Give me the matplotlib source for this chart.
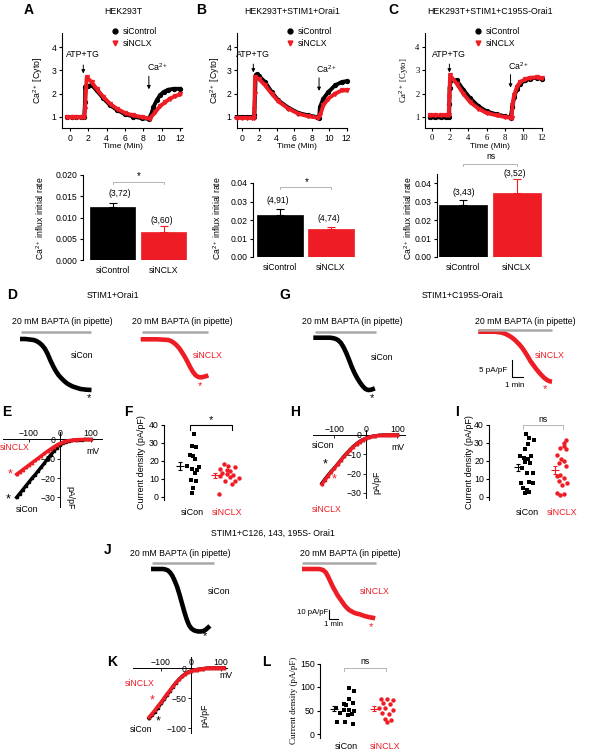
import numpy as np
import matplotlib
matplotlib.use('Agg')
import matplotlib.pyplot as plt

plt.rcParams['font.family'] = ['Liberation Sans', 'DejaVu Sans']
plt.rcParams['mathtext.fontset'] = 'custom'
plt.rcParams['mathtext.rm'] = 'Liberation Sans'
plt.rcParams['mathtext.it'] = 'Liberation Sans:italic'
plt.rcParams['mathtext.bf'] = 'Liberation Sans:bold'
plt.rcParams['axes.linewidth'] = 0.8

RED = '#ee1c24'
GRAY = '#a8a8a8'

# ---------------- DATA ----------------
# Panel A-C: cytosolic Ca2+ time courses (time in min, ratio)
A_t_ctrl = [-0.3, 0.2, 0.7, 1.2, 1.55, 1.64, 1.66, 1.75, 2.0, 2.36, 2.9, 3.64, 4.36, 5.1, 6.0, 6.9, 7.8, 8.6, 8.9, 9.1, 9.45, 9.8, 10.2, 10.7, 11.3, 12.0]
A_ca_ctrl = [1.0, 1.0, 1.0, 1.0, 1.0, 1.66, 2.3, 2.35, 2.32, 2.38, 2.14, 1.8, 1.51, 1.31, 1.12, 1.02, 0.95, 0.92, 1.17, 1.43, 1.71, 1.93, 2.07, 2.17, 2.21, 2.21]
A_t_nclx = [-0.3, 0.2, 0.7, 1.2, 1.55, 1.64, 1.82, 2.36, 2.9, 3.64, 4.36, 5.1, 6.0, 6.9, 7.8, 8.7, 9.3, 9.8, 10.4, 10.9, 11.45, 12.0]
A_ca_nclx = [0.98, 0.98, 0.98, 0.98, 0.98, 1.36, 2.71, 2.5, 2.21, 1.86, 1.57, 1.36, 1.17, 1.07, 1.0, 0.93, 1.21, 1.46, 1.64, 1.79, 1.89, 1.97]

B_t_ctrl = [-0.57, 0.0, 0.6, 1.2, 1.4, 1.45, 1.6, 1.71, 2.0, 2.67, 3.43, 4.19, 5.33, 6.48, 7.62, 8.57, 8.84, 8.95, 9.33, 9.9, 10.67, 11.43, 12.0]
B_ca_ctrl = [1.0, 1.0, 1.0, 1.0, 1.0, 1.1, 2.8, 2.83, 2.75, 2.5, 2.07, 1.71, 1.4, 1.17, 1.07, 1.0, 0.97, 1.43, 1.79, 2.07, 2.36, 2.5, 2.54]
B_t_nclx = [-0.57, 0.0, 0.6, 1.2, 1.4, 1.45, 1.48, 1.52, 2.0, 2.67, 3.43, 4.19, 5.33, 6.48, 7.62, 8.76, 8.95, 9.33, 9.9, 10.67, 11.43, 12.0]
B_ca_nclx = [0.96, 0.96, 0.96, 0.96, 0.96, 1.36, 2.0, 2.71, 2.62, 2.36, 2.0, 1.67, 1.36, 1.14, 1.03, 0.97, 1.07, 1.5, 1.79, 2.0, 2.14, 2.14]

C_t_ctrl = [-0.2, 0.4, 1.0, 1.6, 1.9, 1.93, 1.95, 2.1, 2.73, 3.45, 4.18, 5.1, 6.0, 7.1, 8.0, 8.6, 8.8, 9.0, 9.3, 9.64, 10.2, 10.7, 11.45, 12.0]
C_ca_ctrl = [0.98, 0.98, 0.98, 0.98, 0.98, 1.57, 2.26, 2.6, 2.57, 2.17, 1.81, 1.46, 1.24, 1.11, 1.03, 0.97, 1.43, 1.86, 2.21, 2.43, 2.57, 2.64, 2.69, 2.64]
C_t_nclx = [-0.2, 0.4, 1.0, 1.6, 1.85, 1.93, 2.0, 2.73, 3.45, 4.18, 5.1, 6.0, 7.1, 8.0, 8.55, 8.73, 8.8, 9.0, 9.3, 9.64, 10.2, 10.7, 11.45, 12.0]
C_ca_nclx = [1.07, 1.07, 1.07, 1.07, 1.07, 1.86, 2.79, 2.43, 2.0, 1.64, 1.36, 1.17, 1.07, 1.0, 0.97, 0.97, 1.5, 1.95, 2.3, 2.5, 2.62, 2.68, 2.7, 2.66]

# Bar charts: Ca2+ influx initial rate (mean, sem)
bar_groups = ['siControl', 'siNCLX']
A_bar = [0.01254, 0.00667]; A_err = [0.0008, 0.00133]; A_n = ['(3,72)', '(3,60)']
B_bar = [0.0227, 0.0150]; B_err = [0.0031, 0.0014]; B_n = ['(4,91)', '(4,74)']
C_bar = [0.0282, 0.0349]; C_err = [0.0027, 0.0073]; C_n = ['(3,43)', '(3,52)']

# Whole-cell current traces (time in min, current in pA/pF)
D_t_con = [0, 0.5, 1.0, 1.25, 1.5, 1.75, 2.0, 2.25, 2.5, 2.75, 3.0, 3.25, 3.5, 3.75, 4.0, 4.25, 4.5, 4.75, 5.0, 5.5, 6.0, 6.5]
D_i_con = [0, 0, -0.2, -0.3, -0.6, -1.1, -1.8, -2.8, -4.3, -6.2, -7.9, -9.4, -10.6, -11.5, -12.3, -13.0, -13.5, -13.9, -14.2, -14.7, -14.9, -15.0]
D_t_nclx = [0, 0.5, 1.0, 1.5, 2.0, 2.5, 2.75, 3.0, 3.25, 3.5, 3.75, 4.0, 4.25, 4.5, 4.75, 5.0, 5.25, 5.5, 5.75, 6.0, 6.15]
D_i_nclx = [0, 0, 0, 0, -0.1, -0.2, -0.5, -1.0, -1.7, -2.6, -3.8, -5.1, -6.6, -8.2, -9.6, -10.6, -11.1, -11.2, -11.0, -10.8, -10.6]
G_t_con = [0, 0.5, 1.0, 1.5, 1.75, 2.0, 2.25, 2.5, 2.75, 3.0, 3.25, 3.5, 3.75, 4.0, 4.25, 4.5, 4.75, 5.0, 5.25, 5.6]
G_i_con = [0, 0, 0, 0, -0.1, -0.3, -0.7, -1.5, -2.8, -4.5, -6.5, -8.6, -10.4, -11.9, -13.2, -14.3, -15.1, -15.4, -15.3, -14.9]
G_t_nclx = [0, 0.5, 1.0, 1.5, 2.0, 2.25, 2.5, 2.75, 3.0, 3.25, 3.5, 3.75, 4.0, 4.25, 4.5, 4.75, 5.0, 5.25, 5.5, 5.75, 6.0, 6.25, 6.5, 6.7]
G_i_nclx = [0, 0, 0, 0, -0.2, -0.4, -0.7, -1.1, -1.6, -2.2, -3.0, -3.8, -4.8, -6.0, -7.3, -8.7, -9.8, -10.9, -11.9, -12.8, -13.6, -14.2, -14.6, -14.7]
J_t_con = [0, 0.5, 1.0, 1.25, 1.5, 1.75, 2.0, 2.25, 2.5, 2.75, 3.0, 3.25, 3.5, 3.75, 4.0, 4.25, 4.5, 4.75, 5.0, 5.25, 5.5, 5.75, 6.0, 6.2]
J_i_con = [0, 0, 0, 0, -0.5, -1.5, -4, -8, -14, -21, -30, -40, -50, -59, -66, -70, -72, -73, -73.5, -73.5, -73, -71.5, -69, -67]
J_t_nclx = [0, 0.5, 1.0, 1.5, 1.75, 2.0, 2.25, 2.5, 2.75, 3.0, 3.25, 3.5, 3.75, 4.0, 4.25, 4.5, 4.75, 5.0, 5.25, 5.5, 5.75, 6.0, 6.5, 7.0, 7.5, 7.7]
J_i_nclx = [0, 0, 0, 0, 0, -0.5, -1.5, -4, -9, -15, -21, -26, -31, -35, -39, -43, -46, -48.5, -50, -51.5, -52.5, -53, -55, -56.5, -57.5, -58]

# I-V relationships (mV, pA/pF)
E_mv = [-140, -130, -120, -110, -100, -90, -80, -70, -60, -50, -40, -30, -20, -10, 0, 10, 20, 30, 40, 50, 60, 70, 80, 90, 100]
E_con = [-30.0, -28.0, -26.0, -24.0, -22.0, -20.0, -18.2, -16.2, -14.2, -12.2, -10.0, -8.0, -6.0, -4.2, -2.8, -1.8, -1.2, -0.8, -0.5, -0.3, -0.2, -0.1, 0, 0, 0]
E_nclx = [-18.0, -16.8, -15.6, -14.4, -13.2, -12.0, -10.8, -9.6, -8.4, -7.2, -6.0, -4.9, -3.8, -2.8, -2.0, -1.3, -0.8, -0.5, -0.3, -0.1, 0, 0, 0.1, 0, 0]
H_mv = [-140, -130, -120, -110, -100, -90, -80, -70, -60, -50, -40, -30, -20, -10, 0, 10, 20, 30, 40, 50, 60, 70, 80, 90, 100]
H_con = [-25.0, -22.8, -20.7, -18.8, -17.0, -15.0, -13.0, -11.0, -9.2, -7.5, -5.9, -4.5, -3.3, -2.4, -1.7, -1.1, -0.7, -0.4, -0.2, -0.1, 0, 0, 0, 0, 0]
H_nclx = [-25.5, -23.2, -21.0, -19.0, -17.1, -15.1, -13.1, -11.1, -9.3, -7.6, -6.0, -4.6, -3.4, -2.4, -1.7, -1.1, -0.7, -0.4, -0.2, -0.1, 0, 0.2, 0, 0.1, 0]
K_mv = [-140, -130, -120, -110, -100, -90, -80, -70, -60, -50, -40, -30, -20, -10, 0, 10, 20, 30, 40, 50, 60, 70, 80, 90, 100, 110]
K_con = [-84, -78.5, -72.5, -66, -59, -52, -45, -38, -31, -24.5, -19, -14, -10, -7, -5, -3.5, -2.5, -1.5, -1, -0.5, 0, 0, 0, 0, 0, 0]
K_nclx = [-82, -76, -70, -63, -57, -50, -43, -37, -30, -24, -19, -14, -10, -7, -5, -3.5, -2.5, -1.5, -1, -0.5, 0, 0.5, 0, 0.5, 0, 0]

# Current density scatter (pA/pF)
scat_groups = ['siCon', 'siNCLX']
F_con = [35.0, 28.4, 27.6, 23.4, 22.8, 21.0, 17.0, 15.5, 15.1, 16.4, 13.6, 9.2, 8.8, 5.0, 2.2]
F_nclx = [18.2, 17.0, 15.5, 16.4, 15.0, 14.7, 13.2, 12.7, 12.3, 11.8, 10.5, 11.0, 8.7, 8.7, 7.4, 1.8]
I_con = [34.8, 32.9, 31.6, 29.2, 26.8, 22.7, 21.8, 21.2, 22.7, 19.3, 18.9, 16.0, 13.6, 13.2, 7.6, 8.6, 7.6, 4.8, 3.9, 2.0, 3.0]
I_nclx = [31.6, 29.8, 28.3, 27.3, 26.4, 23.6, 21.2, 19.9, 18.9, 17.1, 12.5, 11.5, 10.6, 8.7, 7.8, 6.9, 2.2, 1.3, 1.5]
L_con = [97, 91, 75, 65, 63, 56, 61, 52, 52, 49, 45, 40, 42, 26, 26, 21]
L_nclx = [75, 75, 73, 66, 63, 56, 56, 51, 45, 42, 31, 29, 26]
F_mean = [17.0, 12.0]; F_sem = [2.2, 1.3]
I_mean = [16.5, 15.0]; I_sem = [2.0, 2.2]
L_mean = [54.0, 54.0]; L_sem = [6.0, 5.0]

# horizontal jitter of scatter points (layout)
F_jit_con = [0.06, -0.02, 0.10, -0.07, 0.01, 0.08, -0.16, -0.02, 0.12, 0.20, 0.08, -0.05, 0.10, 0.01, 0.0]
F_jit_nclx = [-0.10, 0.03, -0.21, 0.23, -0.02, 0.08, -0.14, -0.02, 0.17, -0.21, 0.32, 0.08, -0.07, 0.22, 0.13, -0.23]
I_jit_con = [-0.02, 0.06, 0.19, 0.03, -0.07, -0.21, -0.10, 0.03, 0.12, -0.07, 0.08, -0.13, 0.17, 0.0, -0.16, 0.06, 0.17, -0.11, 0.0, -0.07, 0.06]
I_jit_nclx = [0.12, 0.05, 0.07, -0.05, 0.12, -0.14, -0.02, 0.05, -0.10, 0.12, -0.05, -0.14, 0.05, -0.10, 0.14, 0.0, -0.14, -0.05, 0.07]
L_jit_con = [0.07, 0.20, 0.05, 0.17, -0.08, -0.28, -0.01, 0.07, -0.08, 0.19, -0.18, 0.04, 0.15, -0.25, -0.03, 0.17]
L_jit_nclx = [-0.10, 0.05, 0.20, -0.05, 0.12, -0.15, 0.0, 0.20, -0.08, 0.10, 0.0, 0.15, 0.05]

# ---------------- FIGURE ----------------
W, H = 594, 752
fig = plt.figure(figsize=(W / 100, H / 100), dpi=100)


def add_ax(box, xref, yref):
    x0, y0, x1, y1 = box
    ax = fig.add_axes([x0 / W, 1 - y1 / H, (x1 - x0) / W, (y1 - y0) / H])
    px, v, s = xref
    ax.set_xlim(v + (x0 - px) / s, v + (x1 - px) / s)
    py, v, s = yref
    ax.set_ylim(v - (y1 - py) / s, v - (y0 - py) / s)
    ax.patch.set_alpha(0)
    return ax


def ftext(x, y, s, **kw):
    kw.setdefault('ha', 'center')
    kw.setdefault('va', 'center')
    kw.setdefault('fontsize', 6.3)
    fig.text(x / W, 1 - y / H, s, **kw)


def letter(x, y, s):
    ftext(x, y, s, fontsize=10, fontweight='bold')


# ---- A, B, C time courses ----
def time_panel(box, xref, tctrl, cctrl, tnclx, cnclx, atp, ca, serif=False):
    ax = add_ax(box, xref, (117, 1, 23.3))
    for s in ['top', 'right']:
        ax.spines[s].set_visible(False)
    ax.set_xticks(range(0, 13, 2))
    ax.set_yticks([1, 2, 3, 4])
    ax.tick_params(direction='out', length=2.5, width=0.8, labelsize=6.2, pad=1.5)
    if serif:
        for lab in ax.get_xticklabels() + ax.get_yticklabels():
            lab.set_family('Liberation Serif')
    ax.plot(tctrl, cctrl, color='k', lw=2.8, marker='o', ms=2.8, zorder=2, clip_on=False)
    ax.plot(tnclx, cnclx, color=RED, lw=2.8, marker='v', ms=2.8, zorder=3, clip_on=False)
    # stimulus arrows
    ax.annotate('', xy=(atp[0], atp[1]), xytext=(atp[0], atp[1] + 0.6),
                arrowprops=dict(arrowstyle='-|>', color='k', lw=0.7, mutation_scale=5))
    ax.text(atp[0], atp[1] + 0.72, 'ATP+TG', ha='center', va='bottom', fontsize=6.3)
    ax.annotate('', xy=(ca[0], ca[1]), xytext=(ca[0], ca[1] + 0.8),
                arrowprops=dict(arrowstyle='-|>', color='k', lw=0.7, mutation_scale=5))
    ax.text(ca[0] + 0.9, ca[1] + 1.05, 'Ca$^{2+}$', ha='center', va='center', fontsize=6.3)
    h1 = plt.Line2D([], [], color='k', marker='o', ls='none', ms=3.5)
    h2 = plt.Line2D([], [], color=RED, marker='v', ls='none', ms=3.5)
    ax.legend([h1, h2], ['siControl', 'siNCLX'], loc='upper left',
              bbox_to_anchor=((box[0] + 50) / W, 1 - 27 / H), bbox_transform=fig.transFigure,
              frameon=False, fontsize=6.2, handlelength=0.8, handletextpad=0.5,
              labelspacing=0.35, borderpad=0, borderaxespad=0)
    return ax


time_panel((62, 33, 182, 128.3), (70, 0, 9.17), A_t_ctrl, A_ca_ctrl, A_t_nclx, A_ca_nclx, (1.45, 2.75), (8.6, 2.07))
time_panel((237, 33, 347, 128.3), (241.7, 0, 8.75), B_t_ctrl, B_ca_ctrl, B_t_nclx, B_ca_nclx, (1.33, 2.79), (8.84, 2.0))
time_panel((425, 33, 542, 128.3), (431.7, 0, 9.17), C_t_ctrl, C_ca_ctrl, C_t_nclx, C_ca_nclx, (1.93, 2.79), (8.6, 2.14), serif=True)

letter(29, 10, 'A'); letter(201, 10, 'B'); letter(393, 10, 'C')
ftext(123, 12, 'HEK293T')
ftext(292, 12, 'HEK293T+STIM1+Orai1')
ftext(490, 11, 'HEK293T+STIM1+C195S-Orai1')
ftext(38, 80, 'Ca$^{2+}$ [Cyto]', rotation=90)
ftext(215, 80, 'Ca$^{2+}$ [Cyto]', rotation=90)
ftext(404, 80, 'Ca$^{2+}$ [Cyto]', rotation=90, family='Liberation Serif')
for x in (123, 297, 490):
    ftext(x, 147, 'Time (Min)', fontsize=6)


# ---- bar charts ----
def bar_panel(box, xref, yref, vals, errs, ns, ticks, fmt, sig, sig_y, n_pos):
    ax = add_ax(box, xref, yref)
    for s in ['top', 'right', 'bottom']:
        ax.spines[s].set_visible(False)
    ax.bar([0, 1], vals, width=0.9, color=['k', RED], edgecolor=['k', RED], lw=0.5, zorder=2)
    for i, c in enumerate(['k', RED]):
        ax.errorbar([i], [vals[i]], yerr=[[0], [errs[i]]], fmt='none', ecolor=c,
                    elinewidth=0.8, capsize=3, capthick=0.8, zorder=1)
        ax.text(n_pos[i][0], n_pos[i][1], ns[i], ha='center', va='center', fontsize=6.2)
    ax.set_yticks(ticks)
    ax.set_yticklabels([fmt.format(t) for t in ticks])
    ax.set_xticks([0, 1])
    ax.set_xticklabels(bar_groups)
    ax.tick_params(axis='y', direction='out', length=2.5, width=0.8, labelsize=6.2, pad=1.5)
    ax.tick_params(axis='x', length=0, labelsize=6.2, pad=4)
    yr = ax.get_ylim()[1] - ax.get_ylim()[0]
    ax.plot([0, 0, 1, 1], [sig_y - 0.02 * yr, sig_y, sig_y, sig_y - 0.02 * yr],
            color=GRAY, lw=0.6, clip_on=False)
    ax.text(0.52, sig_y + (0.005 if sig == '*' else 0.03) * yr, sig, ha='center', va='bottom',
            fontsize=7 if sig == '*' else 6.2)
    return ax


bar_panel((83, 175, 190, 260), (112.5, 0, 51), (260, 0, 4250), A_bar, A_err, A_n,
          [0, 0.005, 0.01, 0.015, 0.02], '{:.3f}', '*', 0.0184, [(0.15, 0.0157), (0.96, 0.0094)])
bar_panel((253, 183, 357, 257), (280, 0, 51), (257, 0, 1850), B_bar, B_err, B_n,
          [0, 0.01, 0.02, 0.03, 0.04], '{:.2f}', '*', 0.0378, [(-0.05, 0.0303), (0.95, 0.0209)])
bar_panel((437, 174, 545, 257), (463, 0, 54), (257, 0, 1842), C_bar, C_err, C_n,
          [0, 0.01, 0.02, 0.03, 0.04], '{:.2f}', 'ns', 0.0505, [(0.02, 0.0349), (0.96, 0.0454)])
for x in (40, 217, 408):
    ftext(x, 218, 'Ca$^{2+}$ influx initial rate', rotation=90, fontsize=6.2)


# ---- current traces ----
def trace_panel(box, xref, yref, t, i, color, bar_t, bar_v, scale=None):
    ax = add_ax(box, xref, yref)
    ax.axis('off')
    ax.plot(t, i, color=color, lw=3.3, solid_capstyle='butt', clip_on=False)
    ax.plot(bar_t, [bar_v, bar_v], color=GRAY, lw=1.8, solid_capstyle='butt', clip_on=False)
    if scale is not None:
        sx, sy, dx, dy = scale
        ax.plot([sx, sx, sx + dx], [sy + dy, sy, sy], color='k', lw=0.8, clip_on=False)
    return ax


trace_panel((5, 320, 110, 405), (20, 0, 11), (339, 0, 3.4), D_t_con, D_i_con, 'k', [0.09, 6.45], 2.06)
trace_panel((130, 320, 230, 405), (140.7, 0, 11), (339.3, 0, 3.4), D_t_nclx, D_i_nclx, RED, [0.12, 6.14], 2.1)
trace_panel((300, 320, 400, 405), (313.3, 0, 11), (337.7, 0, 3.4), G_t_con, G_i_con, 'k', [0.15, 5.7], 1.68)
trace_panel((465, 320, 570, 405), (478.3, 0, 11), (331.7, 0, 3.4), G_t_nclx, G_i_nclx, RED, [0.0, 6.7], 0.5,
            scale=(3.06, -13.3, 1.0, 5.0))
trace_panel((140, 555, 230, 650), (151, 0, 9.5), (569, 0, 0.85), J_t_con, J_i_con, 'k', [0.1, 6.6], 7.6)
trace_panel((290, 555, 390, 650), (302, 0, 9.5), (569, 0, 0.85), J_t_nclx, J_i_nclx, RED, [0.0, 7.8], 7.6,
            scale=(2.84, -58.8, 1.0, 10.0))

letter(12, 295, 'D'); letter(285, 295, 'G'); letter(108, 550, 'J')
ftext(113, 295, 'STIM1+Orai1')
ftext(463, 295, 'STIM1+C195S-Orai1')
ftext(273, 533, 'STIM1+C126, 143, 195S- Orai1')
for x, y in ((62, 322), (182, 322), (352, 322), (525, 322), (180, 553), (350, 553)):
    ftext(x, y, '20 mM BAPTA (in pipette)')
ftext(82, 356, 'siCon'); ftext(208, 356, 'siNCLX', color=RED)
ftext(89, 398, '*', fontsize=8); ftext(200, 386, '*', fontsize=8, color=RED)
ftext(382, 357, 'siCon'); ftext(550, 356, 'siNCLX', color=RED)
ftext(372, 398, '*', fontsize=8); ftext(545, 389, '*', fontsize=8, color=RED)
ftext(507, 370, '5 pA/pF', ha='right', fontsize=5.8); ftext(515, 385, '1 min', fontsize=5.8)
ftext(219, 591, 'siCon'); ftext(375, 591, 'siNCLX', color=RED)
ftext(205, 636, '*', fontsize=8); ftext(371, 627, '*', fontsize=8, color=RED)
ftext(328, 613, '10 pA/pF', ha='right', fontsize=5.6); ftext(334, 625, '1 min', fontsize=5.6)


# ---- I-V curves ----
def iv_panel(box, xref, yref, mv, con, nclx, yticks):
    ax = add_ax(box, xref, yref)
    ax.spines['top'].set_position(('data', 0))
    ax.spines['left'].set_position(('data', 0))
    ax.spines['right'].set_visible(False)
    ax.spines['bottom'].set_visible(False)
    ax.spines['top'].set_linewidth(0.7)
    ax.spines['left'].set_linewidth(0.7)
    ax.xaxis.set_ticks_position('top')
    ax.set_xticks([-100, 0, 100])
    ax.set_yticks(yticks)
    ax.tick_params(axis='x', direction='in', length=2, width=0.6, labelsize=6.3, pad=1)
    ax.tick_params(axis='y', direction='out', length=2, width=0.6, labelsize=6.3, pad=1)
    ax.plot(mv, con, color='k', lw=2.4, marker='s', ms=1.8, zorder=2, clip_on=False)
    ax.plot(mv, nclx, color=RED, lw=2.4, marker='^', ms=1.8, zorder=3, clip_on=False)
    return ax


iv_panel((3, 432, 102, 507), (60, 0, 0.31), (439.5, 0, 1.93), E_mv, E_con, E_nclx, [-30, -20, -10, 0])
iv_panel((313, 430, 405, 498), (366, 0, 0.315), (435, 0, 1.93), H_mv, H_con, H_nclx, [-30, -20, -10, 0])
iv_panel((133, 657, 227, 733), (191, 0, 0.30), (668, 0, 0.6), K_mv, K_con, K_nclx, [-100, -50, 0])

letter(7, 412, 'E'); letter(295, 412, 'H'); letter(112, 662, 'K')
ftext(15, 448, 'siNCLX', color=RED); ftext(10, 474, '*', fontsize=9, color=RED)
ftext(8, 499, '*', fontsize=9); ftext(27, 509, 'siCon')
ftext(93, 452, 'mV'); ftext(70, 498, 'pA/pF', rotation=-90)
ftext(323, 445, 'siCon'); ftext(398, 448, 'mV'); ftext(377, 482, 'pA/pF', rotation=90)
ftext(325, 464, '*', fontsize=9); ftext(334, 479, '*', fontsize=9, color=RED)
ftext(327, 510, 'siNCLX', color=RED)
ftext(140, 683, 'siNCLX', color=RED); ftext(152, 700, '*', fontsize=9, color=RED)
ftext(158, 721, '*', fontsize=9); ftext(141, 730, 'siCon')
ftext(226, 676, 'mV'); ftext(205, 715, 'pA/pF', rotation=90)


# ---- scatter panels ----
def scatter_panel(box, xref, yref, con, nclx, jc, jn, mean, sem, moff, yticks, sig, sig_x, sig_y,
                  sig_h, sig_color, sig_lw, xpad=6):
    ax = add_ax(box, xref, yref)
    for s in ['top', 'right', 'bottom']:
        ax.spines[s].set_visible(False)
    ax.scatter([0 + j for j in jc], con, marker='s', s=9, color='k', lw=0, zorder=3, clip_on=False)
    ax.scatter([1 + j for j in jn], nclx, marker='o', s=10, color=RED, lw=0, zorder=3, clip_on=False)
    for i, c in enumerate(['k', RED]):
        ax.errorbar([i + moff[i]], [mean[i]], yerr=[sem[i]], fmt='_', color=c, ms=6, mew=0.8,
                    elinewidth=0.8, capsize=1.5, capthick=0.8, zorder=2)
    ax.set_yticks(yticks)
    ax.set_xticks([0, 1])
    ax.set_xticklabels(scat_groups)
    ax.get_xticklabels()[1].set_color(RED)
    ax.tick_params(axis='y', direction='out', length=2.5, width=0.8, labelsize=6.3, pad=1.2)
    ax.tick_params(axis='x', length=0, labelsize=6.5, pad=xpad)
    ax.plot([sig_x[0], sig_x[0], sig_x[1], sig_x[1]], [sig_y - sig_h, sig_y, sig_y, sig_y - sig_h],
            color=sig_color, lw=sig_lw, clip_on=False)
    ax.text((sig_x[0] + sig_x[1]) / 2, sig_y + (0.0 if sig == '*' else 0.02) * (yticks[-1]),
            sig, ha='center', va='bottom', fontsize=8 if sig == '*' else 6.2)
    return ax


scatter_panel((164, 425, 250, 500), (192.3, 0, 35), (497, 0, 1.8), F_con, F_nclx, F_jit_con, F_jit_nclx,
              F_mean, F_sem, [-0.36, -0.36], [0, 10, 20, 30, 40], '*', (-0.07, 1.13), 40, 3, 'k', 0.8)
scatter_panel((489, 425, 580, 500), (527, 0, 35), (497, 0, 1.8), I_con, I_nclx, I_jit_con, I_jit_nclx,
              I_mean, I_sem, [-0.26, -0.19], [0, 10, 20, 30, 40], 'ns', (-0.11, 1.03), 40, 2, GRAY, 0.6)
scatter_panel((320, 663.5, 410, 738), (346.6, 0, 38.5), (734, 0, 0.47), L_con, L_nclx,
              L_jit_con, L_jit_nclx, L_mean, L_sem, [-0.33, -0.30], [0, 50, 100, 150], 'ns',
              (-0.07, 1.02), 140.7, 6, GRAY, 0.6, xpad=3)
letter(128, 412, 'F'); letter(457, 412, 'I'); letter(266, 662, 'L')
ftext(142, 462, 'Current density (pA/pF)', rotation=90, fontsize=6.5)
ftext(469, 462, 'Current density (pA/pF)', rotation=90, fontsize=6.5)
ftext(294, 700, 'Current density (pA/pF)', rotation=90, fontsize=6.5, family='Liberation Serif')

fig.savefig('out.png', dpi=100)
